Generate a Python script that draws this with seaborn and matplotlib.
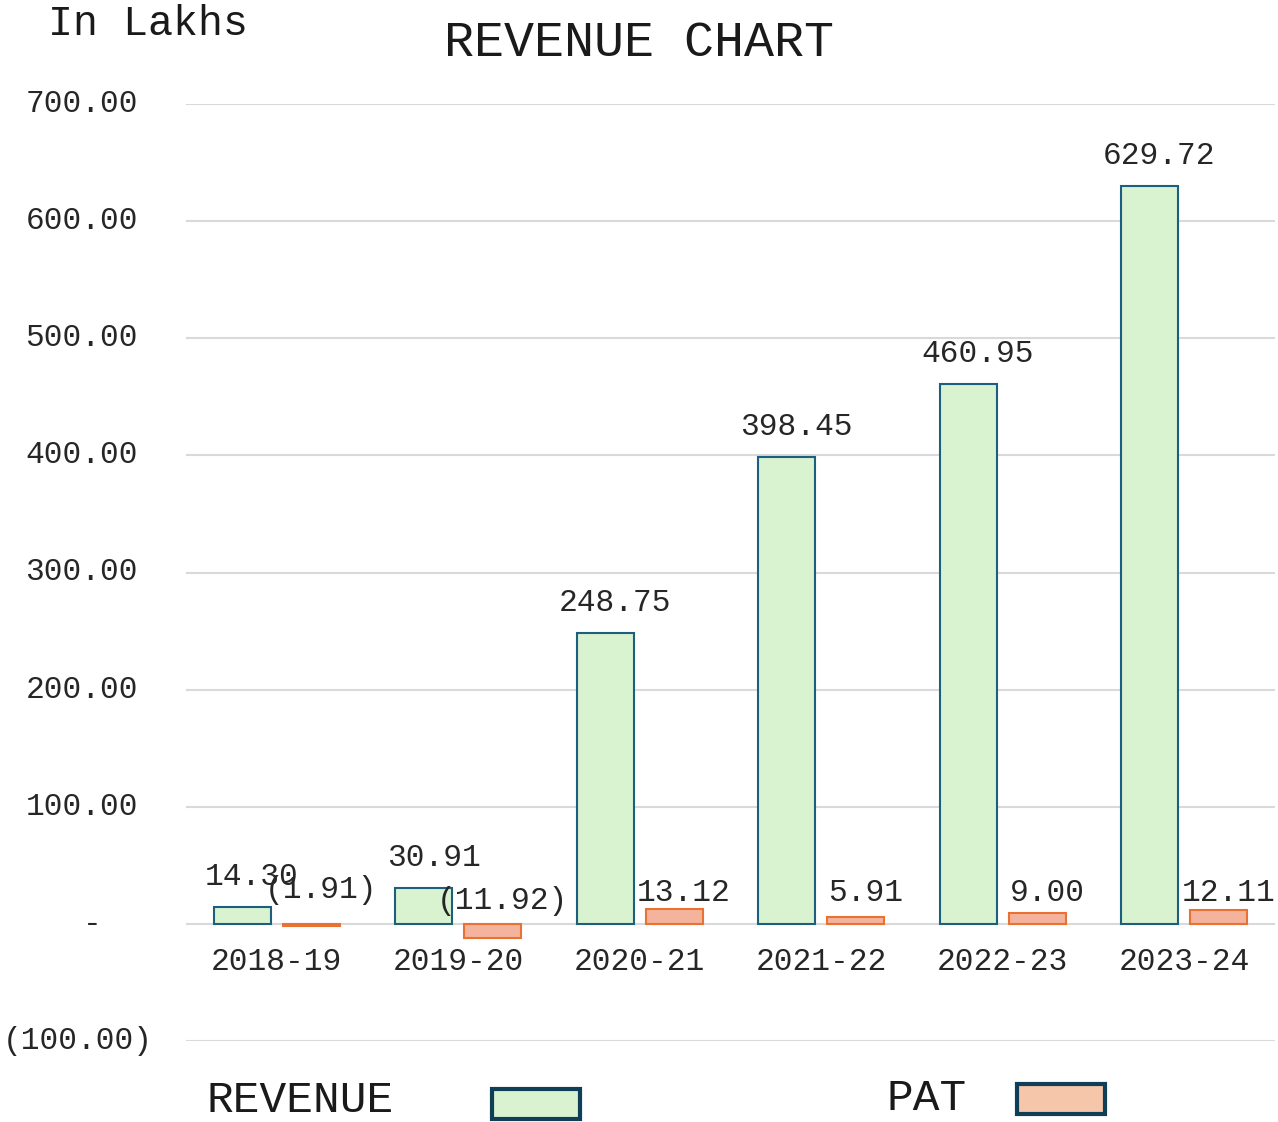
import pandas as pd
import matplotlib
matplotlib.use('Agg')
import matplotlib.pyplot as plt
import matplotlib.transforms as mtransforms
from matplotlib.patches import Rectangle
import seaborn as sns

years = ['2018-19', '2019-20', '2020-21', '2021-22', '2022-23', '2023-24']
revenue = [14.30, 30.91, 248.75, 398.45, 460.95, 629.72]
pat = [-1.91, -11.92, 13.12, 5.91, 9.00, 12.11]
y_ticks = [-100, 0, 100, 200, 300, 400, 500, 600, 700]

def fmt(v):
    if v == 0:
        return '-'
    if v < 0:
        return f'({abs(v):.2f})'
    return f'{v:.2f}'

df = pd.DataFrame({
    'year': years * 2,
    'value': revenue + pat,
    'series': ['REVENUE'] * len(years) + ['PAT'] * len(years),
})

sns.set_style('white')
plt.rcParams['font.family'] = ['Liberation Mono', 'DejaVu Sans Mono']

fig = plt.figure(figsize=(12.78, 11.22), dpi=100)
ax = fig.add_axes([186 / 1278, 1 - 1041 / 1122, 1089 / 1278, 937 / 1122])

rev_fill, rev_edge = '#d9f2d0', '#1d5f7e'
pat_fill, pat_edge = '#f4b39c', '#e97132'
txt = '#262626'
fs = 22.5

sns.barplot(data=df, x='year', y='value', hue='series', hue_order=['REVENUE', 'PAT'],
            palette=[rev_fill, pat_fill], saturation=1, width=0.76, gap=0.18,
            legend=False, ax=ax, zorder=3)

for bar_container, edge in zip(ax.containers, [rev_edge, pat_edge]):
    for b in bar_container:
        b.set_edgecolor(edge)
        b.set_linewidth(1.5)

ax.set_ylim(-100, 700)
ax.set_xlim(-0.5, len(years) - 0.5)
ax.set_yticks(y_ticks)
ax.yaxis.grid(True, color='#d9d9d9', linewidth=1.5, zorder=0)
ax.set_yticklabels([])
ax.tick_params(axis='y', length=0)
ax.tick_params(axis='x', length=0, labelsize=fs, pad=17, colors=txt)
for s in ax.spines.values():
    s.set_visible(False)
ax.spines['bottom'].set_position(('data', 0))
ax.set_xlabel('')
ax.set_ylabel('')

# y tick labels in accounting style
ytrans = mtransforms.blended_transform_factory(ax.transAxes, ax.transData)
for v in y_ticks:
    lab = fmt(v)
    if v == 0:
        ax.text((92 - 186) / 1089, v, lab, transform=ytrans, ha='center', va='center',
                fontsize=fs, color=txt)
    elif v < 0:
        ax.text((153 - 186) / 1089, v, lab, transform=ytrans, ha='right', va='center',
                fontsize=fs, color=txt)
    else:
        ax.text((138 - 186) / 1089, v, lab, transform=ytrans, ha='right', va='center',
                fontsize=fs, color=txt)

# data labels
shift = mtransforms.offset_copy(ax.transData, fig=fig, x=7, y=0, units='points')
for b, v in zip(ax.containers[0], revenue):
    ax.text(b.get_x() + b.get_width() / 2, v + 25.5, fmt(v), transform=shift,
            ha='center', va='center', fontsize=fs, color=txt)
pat_label_y = {-1.91: 29, -11.92: 19.5}
for b, v in zip(ax.containers[1], pat):
    ax.text(b.get_x() + b.get_width() / 2, pat_label_y.get(v, 26), fmt(v), transform=shift,
            ha='center', va='center', fontsize=fs, color=txt)

fig.text(0.5, 1 - 43 / 1122, 'REVENUE CHART', ha='center', va='center', fontsize=36, color='#1a1a1a')
fig.text(48 / 1278, 1 - 24 / 1122, 'In Lakhs', ha='left', va='center', fontsize=30, color='#1a1a1a')

# legend drawn below the plot
fig.text(207 / 1278, 1 - 1101 / 1122, 'REVENUE', ha='left', va='center', fontsize=32, color='#1a1a1a')
fig.text(886 / 1278, 1 - 1099 / 1122, 'PAT', ha='left', va='center', fontsize=32, color='#1a1a1a')
for (x0, y0, fc) in [(492, 1119, rev_fill), (1017, 1114, '#f6c6ab')]:
    fig.patches.append(Rectangle((x0 / 1278, 1 - y0 / 1122), 88 / 1278, 30 / 1122,
                                 transform=fig.transFigure, facecolor=fc,
                                 edgecolor='#0f3f56', linewidth=3))

fig.savefig('out.png', dpi=100)
